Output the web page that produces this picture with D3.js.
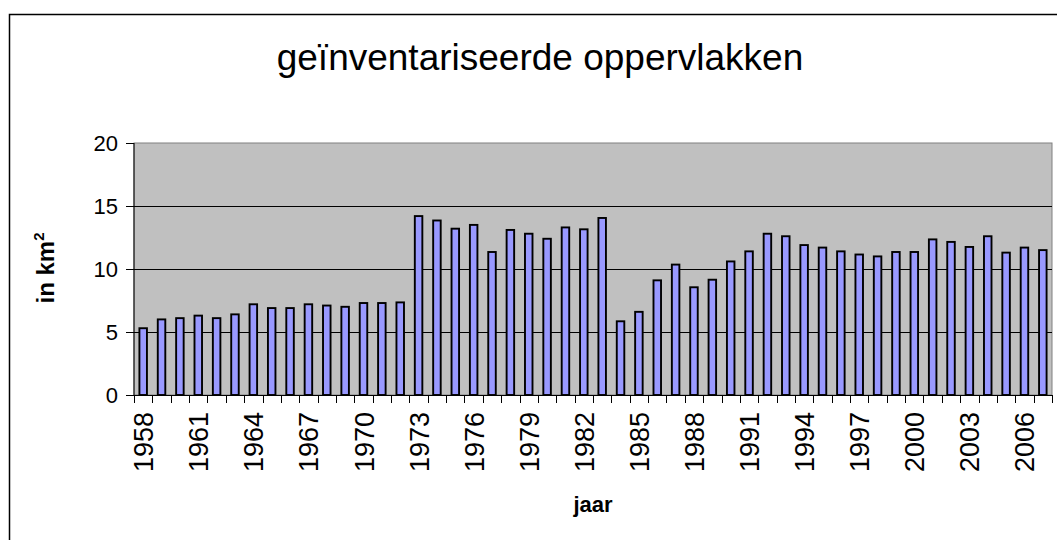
<!DOCTYPE html>
<html>
<head>
<meta charset="utf-8">
<script src="https://cdn.jsdelivr.net/npm/d3@7"></script>
<style>
  body { margin: 0; background: #fff; }
  svg { display: block; font-family: Arial, "Liberation Sans", sans-serif; }
</style>
</head>
<body>
<div id="chart-container"></div>
<script>
// data
const years = d3.range(1958, 2008).map(String);
const areas = [
  5.3, 6.0, 6.1, 6.3, 6.1, 6.4, 7.2, 6.9, 6.9, 7.2,
  7.1, 7.0, 7.3, 7.3, 7.35, 14.2, 13.85, 13.2, 13.5, 11.35,
  13.1, 12.8, 12.4, 13.3, 13.15, 14.05, 5.85, 6.6, 9.1, 10.35,
  8.55, 9.15, 10.6, 11.4, 12.8, 12.6, 11.9, 11.7, 11.4, 11.15,
  11.0, 11.35, 11.35, 12.35, 12.15, 11.75, 12.6, 11.3, 11.7, 11.5
];
const yTicks = [0, 5, 10, 15, 20];
const labelEvery = 3;

const W = 1057, H = 540;
const margin = { top: 143, right: 5, bottom: 145, left: 134 };
const width = W - margin.left - margin.right;
const height = H - margin.top - margin.bottom;

const svg = d3.select("#chart-container")
    .append("svg")
    .attr("width", W)
    .attr("height", H);

// outer chart frame (runs off the right/bottom edge)
svg.append("rect")
    .attr("x", 9.5)
    .attr("y", 14.5)
    .attr("width", W + 20)
    .attr("height", H + 20)
    .attr("fill", "none")
    .attr("stroke", "#000")
    .attr("stroke-width", 1.5);

svg.append("text")
    .attr("x", 540)
    .attr("y", 70)
    .attr("text-anchor", "middle")
    .attr("font-size", 37)
    .text("geïnventariseerde oppervlakken");

const g = svg.append("g")
    .attr("transform", `translate(${margin.left},${margin.top})`);

const x = d3.scaleBand()
    .domain(years)
    .range([0, width])
    .paddingInner(0.59)
    .paddingOuter(0.295);

const y = d3.scaleLinear()
    .domain([0, 20])
    .range([height, 0]);

// plot background
g.append("rect")
    .attr("width", width)
    .attr("height", height)
    .attr("fill", "#c0c0c0")
    .attr("stroke", "#808080")
    .attr("stroke-width", 1);

// gridlines
g.selectAll(".grid")
    .data(yTicks.filter(d => d > 0 && d < 20))
    .enter().append("line")
    .attr("x1", 0)
    .attr("x2", width)
    .attr("y1", d => Math.round(y(d)) + 0.5)
    .attr("y2", d => Math.round(y(d)) + 0.5)
    .attr("stroke", "#000")
    .attr("stroke-width", 1);

// bars
g.selectAll(".bar")
    .data(areas)
    .enter().append("rect")
    .attr("x", (d, i) => x(years[i]))
    .attr("y", d => y(d))
    .attr("width", x.bandwidth())
    .attr("height", d => y(0) - y(d))
    .attr("fill", "#9999ff")
    .attr("stroke", "#000")
    .attr("stroke-width", 1.9);

// y axis
const yAxis = g.append("g")
    .call(d3.axisLeft(y).tickValues(yTicks).tickSize(8).tickPadding(8));
yAxis.selectAll("text").attr("font-size", 22).attr("fill", "#000");
yAxis.selectAll("line, path").attr("stroke", "#000");
yAxis.select(".domain").attr("d", `M0,0V${height}`);

// x axis: ticks between categories, labels every third year
const step = x.step();
const xAxis = g.append("g")
    .attr("transform", `translate(0,${height})`);
xAxis.append("line")
    .attr("x1", 0).attr("x2", width)
    .attr("y1", 0.5).attr("y2", 0.5)
    .attr("stroke", "#000");
xAxis.selectAll(".tick")
    .data(d3.range(years.length + 1))
    .enter().append("line")
    .attr("x1", i => Math.round(i * step) + 0.5)
    .attr("x2", i => Math.round(i * step) + 0.5)
    .attr("y1", 0)
    .attr("y2", 8)
    .attr("stroke", "#000");
xAxis.selectAll(".lbl")
    .data(years.filter((d, i) => i % labelEvery === 0))
    .enter().append("text")
    .attr("transform", d => `translate(${x(d) + x.bandwidth() / 2 + 10},${17}) rotate(-90)`)
    .attr("text-anchor", "end")
    .attr("font-size", 27)
    .text(d => d);

// axis titles
svg.append("text")
    .attr("x", 593)
    .attr("y", 512)
    .attr("text-anchor", "middle")
    .attr("font-size", 22)
    .attr("font-weight", "bold")
    .text("jaar");

const yt = svg.append("text")
    .attr("transform", "translate(54,268) rotate(-90)")
    .attr("text-anchor", "middle")
    .attr("font-size", 24)
    .attr("font-weight", "bold");
yt.append("tspan").text("in km");
yt.append("tspan").attr("font-size", 15).attr("dy", -10).text("2");
</script>
</body>
</html>
